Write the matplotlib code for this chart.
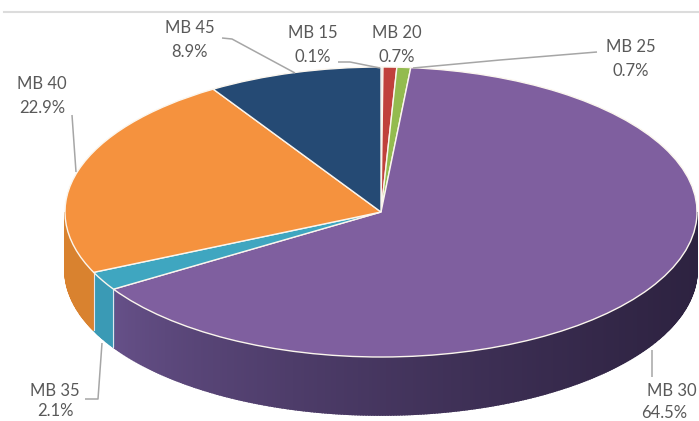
import matplotlib
matplotlib.use("Agg")
import matplotlib.pyplot as plt
import matplotlib.colors as mcolors
import numpy as np

plt.rcParams['font.family'] = ['Lato', 'DejaVu Sans']

# slices go clockwise from the top
names = ['MB 15', 'MB 20', 'MB 25', 'MB 30', 'MB 35', 'MB 40', 'MB 45']
shares = [0.1, 0.7, 0.7, 64.5, 2.1, 22.9, 8.9]
top_colors = ['#7fa6d8', '#c0413c', '#93bb4f', '#7f5f9f', '#3fa6c0', '#f5923e', '#254a74']
# wall colours at the left and right end of each slice's wall
wall_left = ['#4f6f95', '#8a2e2a', '#6a8a38', '#67518a', '#3a9ab5', '#d9822f', '#1a3553']
wall_right = ['#4f6f95', '#8a2e2a', '#6a8a38', '#2d2240', '#3a9ab5', '#d9822f', '#1a3553']

# label centres in pixels: name line, value line
label_x = [313, 397, 631, 672, 55, 42, 190]
name_y = [33, 33, 47, 391, 391, 84, 28]
value_y = [57, 57, 71, 413, 411, 108, 52]
value_x = [313, 397, 631, 664, 55, 42, 190]

# leader lines in pixels
leaders = [
    ([338, 350, 380], [62, 62, 68]),
    ([413, 500, 597], [68, 60, 52]),
    ([652, 652], [350, 377]),
    ([85, 98, 102], [399, 399, 343]),
    ([72, 76], [115, 172]),
    ([222, 232, 295], [38, 39, 73]),
]

W, H = 699, 421
cx, cy = 381, 212
rx, ry = 316, 145
depth = 58

fig = plt.figure(figsize=(W / 100, H / 100), dpi=100)
ax = fig.add_axes([0, 0, 1, 1])


def px(x, y):
    return (np.asarray(x, dtype=float) - cx) / rx, (cy - np.asarray(y, dtype=float)) / ry


# walls, only the front half of the ellipse shows
edges = np.cumsum([0] + shares) / sum(shares) * 360
d = depth / ry
for i in range(len(shares)):
    a0, a1 = max(edges[i], 90), min(edges[i + 1], 270)
    if a1 <= a0:
        continue
    n = max(2, int((a1 - a0) * 2))
    ang = np.radians(np.linspace(a0, a1, n + 1))
    xs, ys = np.sin(ang), np.cos(ang)
    c_left = np.array(mcolors.to_rgb(wall_left[i]))
    c_right = np.array(mcolors.to_rgb(wall_right[i]))
    xa, xb = xs.min(), xs.max()
    for j in range(n):
        f = ((xs[j] + xs[j + 1]) / 2 - xa) / (xb - xa)
        col = c_left + (c_right - c_left) * f ** 0.7
        ax.fill([xs[j], xs[j + 1], xs[j + 1], xs[j]],
                [ys[j], ys[j + 1], ys[j + 1] - d, ys[j] - d],
                facecolor=col, edgecolor=col, lw=1.2, zorder=1)
    # thin light seam where two walls meet
    if a0 > 90:
        ax.plot([xs[0], xs[0]], [ys[0], ys[0] - d], color='#dfe6ee', lw=0.8, zorder=1.5)

# top of the pie
wedges, _ = ax.pie(shares, colors=top_colors, startangle=90, counterclock=False,
                   radius=1, center=(0, 0),
                   wedgeprops={'edgecolor': '#fbf6ee', 'linewidth': 1.0})
for w in wedges:
    w.set_zorder(2)

ax.set_aspect('auto')
ax.set_xlim((0 - cx) / rx, (W - cx) / rx)
ax.set_ylim((cy - H) / ry, (cy - 0) / ry)
ax.axis('off')

# thin rule at the top of the picture
x0, y0 = px([4, W], [12, 12])
ax.plot(x0, y0, color='#dcdcdc', lw=1.5, zorder=1)

for xs, ys in leaders:
    lx, ly = px(xs, ys)
    ax.plot(lx, ly, color='#a6a6a6', lw=1.1, zorder=3, solid_capstyle='butt')

for i in range(len(names)):
    tx, ty = px(label_x[i], name_y[i])
    ax.text(tx, ty, names[i], fontsize=12, color='#595959', ha='center', va='center', zorder=4)
    tx, ty = px(value_x[i], value_y[i])
    ax.text(tx, ty, '%.1f%%' % shares[i], fontsize=12, color='#595959', ha='center', va='center', zorder=4)

fig.savefig('out.png', dpi=100)
